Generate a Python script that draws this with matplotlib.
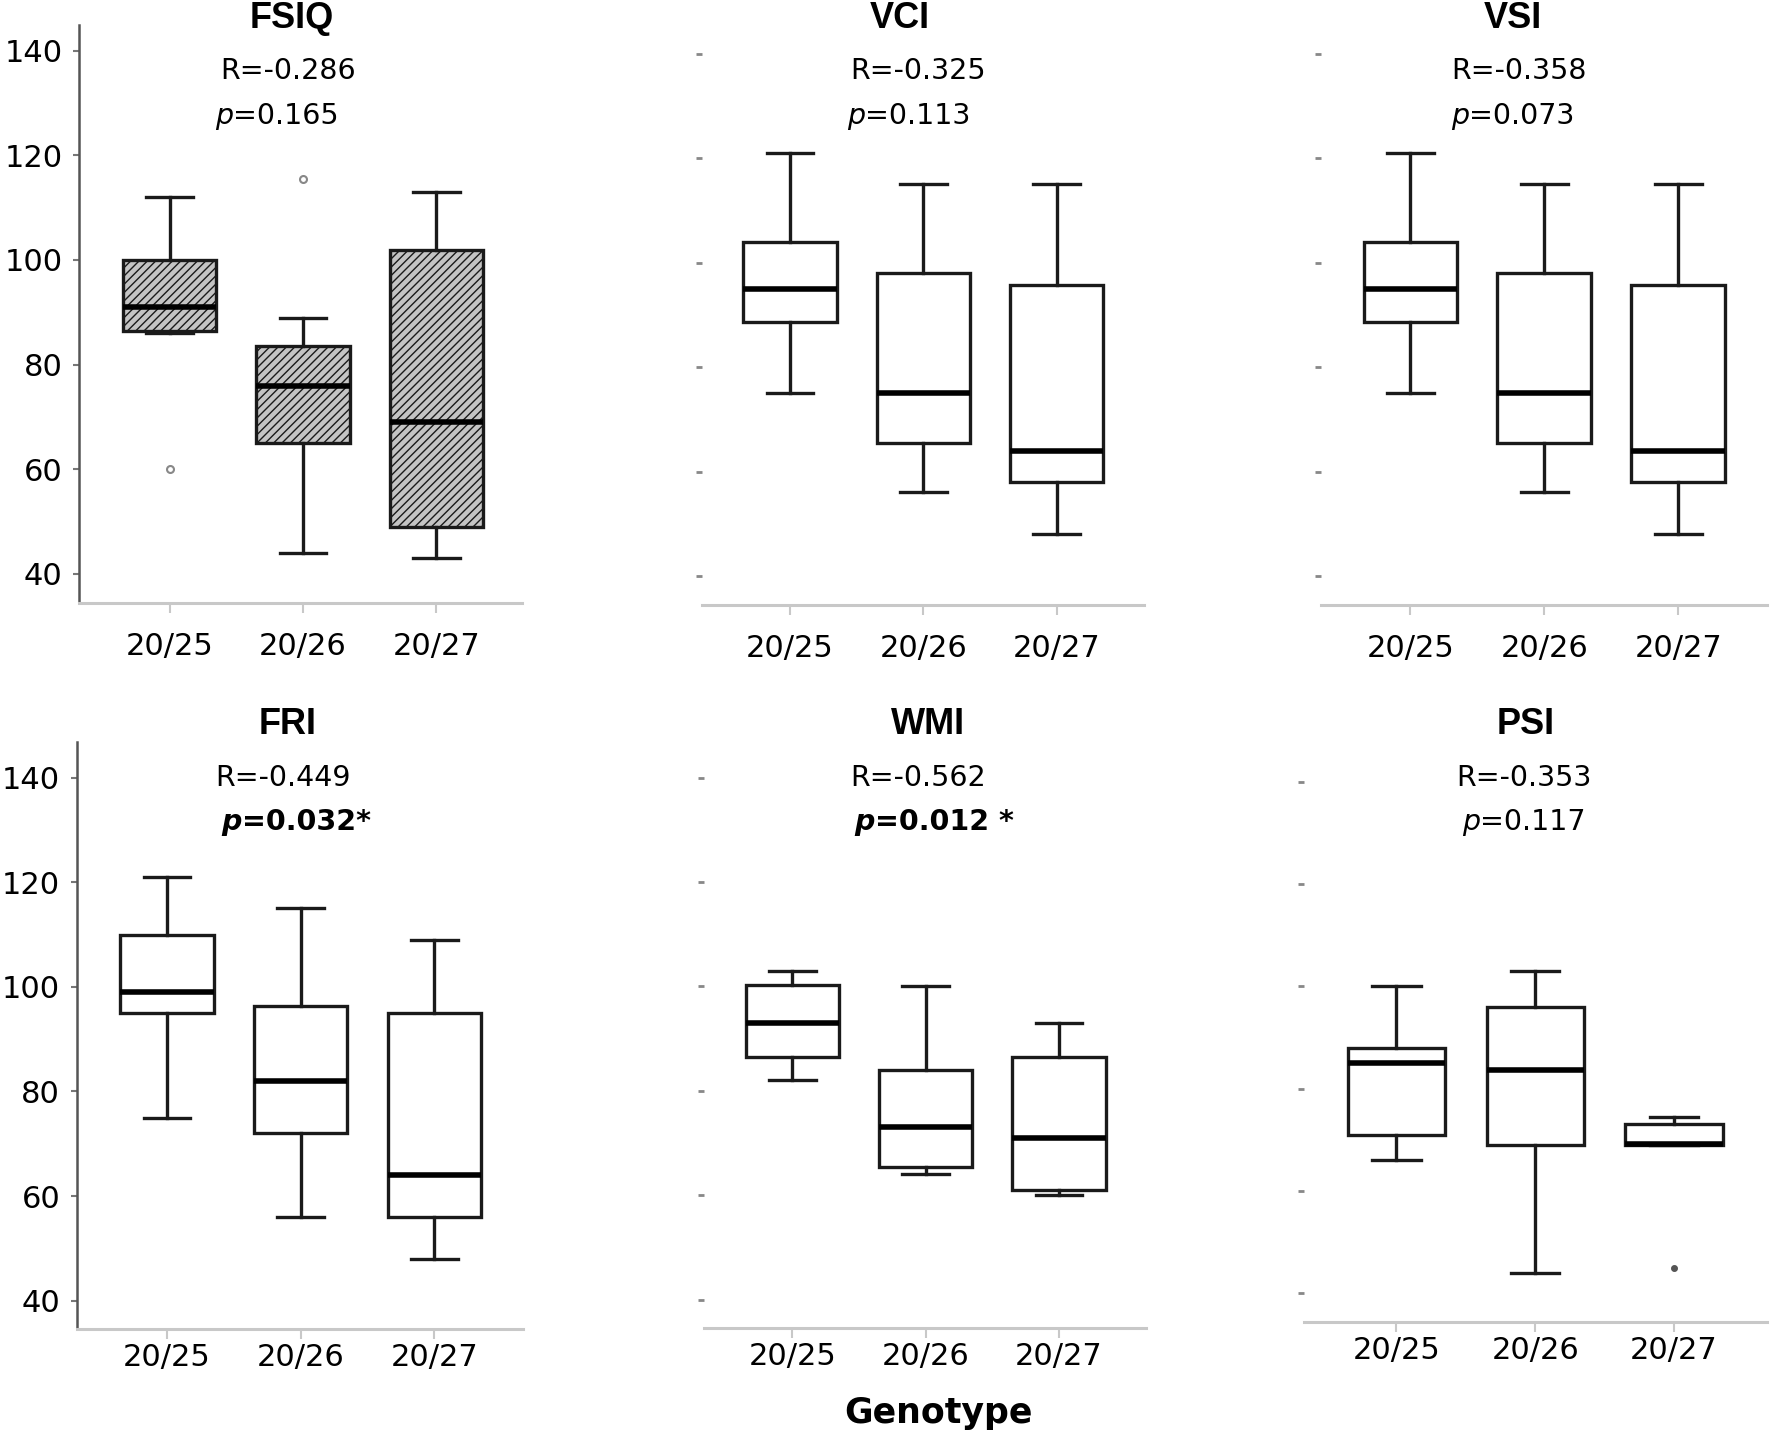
import matplotlib
matplotlib.use('Agg')
import matplotlib.pyplot as plt
from matplotlib.transforms import blended_transform_factory

plt.rcParams['font.family'] = 'DejaVu Sans'
plt.rcParams['hatch.linewidth'] = 1.0

# categories and panel labels
genotypes = ['20/25', '20/26', '20/27']
panels = ['FSIQ', 'VCI', 'VSI', 'FRI', 'WMI', 'PSI']
r_values = ['R=-0.286', 'R=-0.325', 'R=-0.358', 'R=-0.449', 'R=-0.562', 'R=-0.353']
p_values = ['=0.165', '=0.113', '=0.073', '=0.032*', '=0.012 *', '=0.117']
p_bold = [False, False, False, True, True, False]

# five-number summaries (low whisker, q1, median, q3, high whisker)
fsiq_lo = [86, 44, 43]
fsiq_q1 = [86.5, 65, 49]
fsiq_med = [91, 76, 69]
fsiq_q3 = [100, 83.5, 102]
fsiq_hi = [112, 89, 113]
fsiq_out = [[60], [115.5], []]

vci_lo = [75, 56, 48]
vci_q1 = [88.7, 65.5, 58]
vci_med = [95, 75, 64]
vci_q3 = [104, 98, 95.7]
vci_hi = [121, 115, 115]
vci_out = [[], [], []]

vsi_lo = [75, 56, 48]
vsi_q1 = [88.7, 65.5, 58]
vsi_med = [95, 75, 64]
vsi_q3 = [104, 98, 95.7]
vsi_hi = [121, 115, 115]
vsi_out = [[], [], []]

fri_lo = [75, 56, 48]
fri_q1 = [95, 72, 56]
fri_med = [99, 82, 64]
fri_q3 = [110, 96.4, 95]
fri_hi = [121, 115, 109]
fri_out = [[], [], []]

wmi_lo = [82, 64, 60]
wmi_q1 = [86.5, 65.5, 61]
wmi_med = [93, 73, 71]
wmi_q3 = [100.3, 84, 86.5]
wmi_hi = [103, 100, 93]
wmi_out = [[], [], []]

psi_lo = [66, 44, 69]
psi_q1 = [71, 69, 69]
psi_med = [85, 83.6, 69.2]
psi_q3 = [88, 96, 73]
psi_hi = [100, 103, 74.5]
psi_out = [[], [], [45]]

y_ticks = [40, 60, 80, 100, 120, 140]


def make_stats(lo, q1, med, q3, hi, out):
    return [dict(label=g, whislo=lo[i], q1=q1[i], med=med[i], q3=q3[i],
                 whishi=hi[i], fliers=out[i]) for i, g in enumerate(genotypes)]


all_stats = [
    make_stats(fsiq_lo, fsiq_q1, fsiq_med, fsiq_q3, fsiq_hi, fsiq_out),
    make_stats(vci_lo, vci_q1, vci_med, vci_q3, vci_hi, vci_out),
    make_stats(vsi_lo, vsi_q1, vsi_med, vsi_q3, vsi_hi, vsi_out),
    make_stats(fri_lo, fri_q1, fri_med, fri_q3, fri_hi, fri_out),
    make_stats(wmi_lo, wmi_q1, wmi_med, wmi_q3, wmi_hi, wmi_out),
    make_stats(psi_lo, psi_q1, psi_med, psi_q3, psi_hi, psi_out),
]

# layout in pixels of the 1770x1439 figure: left, right, top, bottom
W, H = 1770, 1439
boxes_px = [(79, 521.5, 24.5, 602.7), (702, 1143.5, 27.5, 605), (1320.7, 1766.6, 27.5, 605),
            (76.8, 522.6, 742, 1329), (704.4, 1145.7, 742, 1328), (1303.8, 1766.6, 746.7, 1322)]
xlims = [(0.32, 3.64), (0.34, 3.65), (0.33, 3.66), (0.325, 3.66), (0.34, 3.65), (0.333, 3.667)]
ylims = [(34.5, 145), (34.45, 145), (34.45, 145), (34.6, 146.8), (34.6, 146.8), (34.4, 146.8)]
title_x = [1.915, 1.82, 1.765, 1.90, 2.02, 1.935]
r_x = [1.886, 1.96, 1.81, 1.87, 1.945, 1.92]
p_x = [1.339, 1.424, 1.303, 1.405, 1.466, 1.472]
row_y = [(18, 71, 116), (18, 71, 116), (18, 71, 116), (724, 778, 822), (724, 778, 822), (724, 778, 822)]

fig = plt.figure(figsize=(17.7, 14.39), dpi=100)

for k, name in enumerate(panels):
    l, r, t, b = boxes_px[k]
    ax = fig.add_axes([l / W, 1 - b / H, (r - l) / W, (b - t) / H])
    hatched = (k == 0)
    ax.bxp(all_stats[k], positions=[1, 2, 3], widths=0.7, patch_artist=True,
           boxprops=dict(facecolor='#c4c4c4' if hatched else 'white',
                         edgecolor='#1a1a1a', linewidth=2.4,
                         hatch='////' if hatched else None),
           medianprops=dict(color='black', linewidth=4.0),
           whiskerprops=dict(color='#1a1a1a', linewidth=2.4),
           capprops=dict(color='#1a1a1a', linewidth=2.4),
           flierprops=dict(marker='o', markersize=5 if k == 0 else 3.5,
                           markerfacecolor='none' if k == 0 else '#555555',
                           markeredgecolor='#888888' if k == 0 else '#555555',
                           markeredgewidth=1.5))
    ax.set_xlim(*xlims[k])
    ax.set_ylim(*ylims[k])

    ax.spines['top'].set_visible(False)
    ax.spines['right'].set_visible(False)
    ax.spines['bottom'].set_color('#c8c8c8')
    ax.spines['bottom'].set_linewidth(2.2)

    ax.set_yticks(y_ticks)
    if k in (0, 3):
        ax.spines['left'].set_color('#555555')
        ax.spines['left'].set_linewidth(1.8)
        ax.tick_params(axis='y', length=4, width=1.5, color='#777777',
                       labelsize=22, pad=8)
    else:
        ax.spines['left'].set_visible(False)
        ax.tick_params(axis='y', length=4, width=2, color='#888888', labelleft=False)

    ax.set_xticks([1, 2, 3])
    ax.set_xticklabels(genotypes)
    ax.tick_params(axis='x', length=7, width=1.5, color='#c8c8c8', labelsize=22,
                   pad=14 if k < 3 else 3)

    # title and statistics, x in category units, y in figure pixels
    tr = blended_transform_factory(ax.transData, fig.transFigure)
    ty, ry, py = row_y[k]
    ax.text(title_x[k], 1 - ty / H, name, transform=tr, ha='center', va='center',
            fontsize=26, fontweight='bold', family='Liberation Sans', clip_on=False)
    ax.text(r_x[k], 1 - ry / H, r_values[k], transform=tr, ha='center', va='center',
            fontsize=20.5, clip_on=False)
    weight = 'bold' if p_bold[k] else 'normal'
    tp = ax.text(p_x[k], 1 - py / H, 'p', transform=tr, ha='left', va='center',
                 fontsize=20.5, style='italic', fontweight=weight, clip_on=False)
    ax.annotate(p_values[k], xy=(1, 0.5), xycoords=tp, ha='left', va='center',
                fontsize=20.5, fontweight=weight, annotation_clip=False)

fig.text(938 / W, 1 - 1413 / H, 'Genotype', ha='center', va='center',
         fontsize=25, fontweight='bold')

fig.savefig('out.png', dpi=100)
